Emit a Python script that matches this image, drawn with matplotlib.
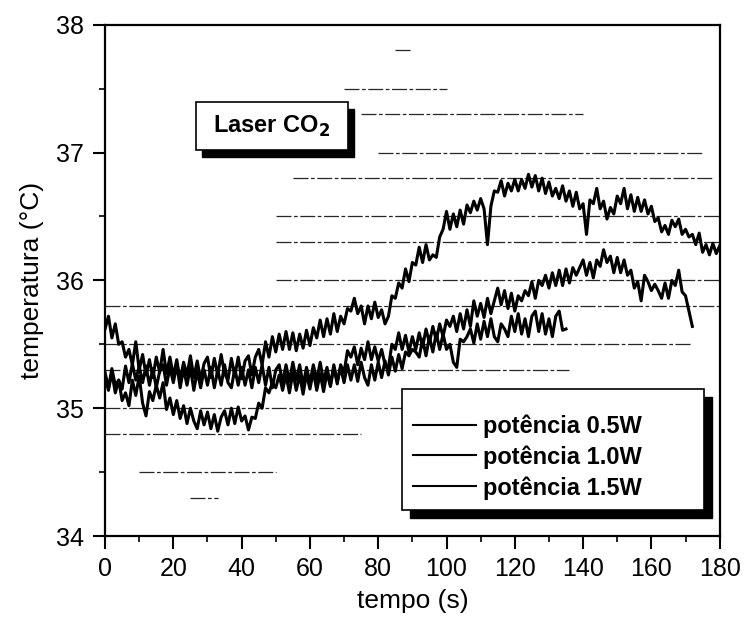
import matplotlib
matplotlib.use("Agg")
import matplotlib.pyplot as plt
from matplotlib.patches import Rectangle
from matplotlib.ticker import MultipleLocator
import numpy as np

plt.rcParams['font.family'] = ['Liberation Sans', 'DejaVu Sans']

# potência 0.5W (longest run, 0-180 s, one reading per second)
temp_a = [35.62, 35.72, 35.55, 35.66, 35.50, 35.52, 35.40, 35.46, 35.34, 35.52, 35.30,
          35.42, 35.26, 35.38, 35.24, 35.40, 35.28, 35.46, 35.27, 35.40, 35.25,
          35.38, 35.22, 35.36, 35.26, 35.41, 35.24, 35.37, 35.22, 35.35, 35.40,
          35.24, 35.39, 35.26, 35.42, 35.27, 35.22, 35.39, 35.25, 35.40, 35.23,
          35.37, 35.41, 35.26, 35.40, 35.46, 35.34, 35.52, 35.40, 35.56, 35.44,
          35.58, 35.46, 35.60, 35.46, 35.59, 35.45, 35.58, 35.47, 35.61, 35.49,
          35.63, 35.55, 35.69, 35.56, 35.70, 35.58, 35.74, 35.60, 35.72, 35.66,
          35.78, 35.76, 35.86, 35.74, 35.80, 35.66, 35.80, 35.70, 35.83, 35.71,
          35.77, 35.66, 35.72, 35.88, 35.86, 35.98, 35.94, 36.09, 35.99, 36.14,
          36.12, 36.26, 36.14, 36.28, 36.16, 36.20, 36.18, 36.34, 36.40, 36.54,
          36.40, 36.52, 36.42, 36.55, 36.44, 36.59, 36.53, 36.62, 36.55, 36.64,
          36.56, 36.28, 36.58, 36.70, 36.69, 36.78, 36.66, 36.76, 36.70, 36.79,
          36.70, 36.79, 36.72, 36.83, 36.73, 36.82, 36.70, 36.80, 36.68, 36.77,
          36.66, 36.72, 36.64, 36.74, 36.62, 36.70, 36.58, 36.69, 36.56, 36.60,
          36.36, 36.63, 36.60, 36.72, 36.56, 36.62, 36.48, 36.57, 36.52, 36.66,
          36.60, 36.72, 36.56, 36.67, 36.54, 36.65, 36.54, 36.63, 36.52, 36.58,
          36.46, 36.49, 36.38, 36.43, 36.36, 36.47, 36.42, 36.48, 36.36, 36.40,
          36.34, 36.36, 36.28, 36.37, 36.22, 36.28, 36.20, 36.29, 36.21, 36.27]

# potência 1.0W (0-172 s)
temp_b = [35.24, 35.14, 35.28, 35.12, 35.22, 35.06, 35.12, 35.02, 35.22, 35.10, 35.25,
          35.04, 34.94, 35.13, 35.06, 35.18, 35.08, 35.20, 34.99, 35.08, 34.95,
          35.06, 34.92, 35.02, 34.88, 35.00, 34.90, 34.84, 34.98, 34.87, 34.97,
          34.84, 34.95, 34.82, 34.93, 34.98, 34.87, 35.00, 34.88, 35.01, 34.90,
          34.94, 34.83, 34.93, 34.92, 35.04, 35.00, 35.16, 35.12, 35.20, 35.16,
          35.26, 35.14, 35.26, 35.12, 35.28, 35.14, 35.26, 35.11, 35.27, 35.15,
          35.29, 35.14, 35.27, 35.13, 35.28, 35.17, 35.32, 35.19, 35.34, 35.28,
          35.45, 35.40, 35.48, 35.34, 35.47, 35.38, 35.52, 35.38, 35.48, 35.37,
          35.46, 35.34, 35.32, 35.50, 35.46, 35.59, 35.46, 35.57, 35.44, 35.56,
          35.46, 35.59, 35.48, 35.62, 35.51, 35.64, 35.53, 35.66, 35.56, 35.69,
          35.64, 35.72, 35.60, 35.74, 35.62, 35.77, 35.64, 35.84, 35.72, 35.82,
          35.71, 35.86, 35.74, 35.84, 35.94, 35.81, 35.92, 35.78, 35.90, 35.76,
          35.88, 35.84, 35.92, 35.88, 35.99, 35.86, 36.00, 35.96, 36.04, 35.94,
          36.06, 35.96, 36.08, 35.96, 36.09, 35.98, 36.10, 36.04, 36.10, 36.16,
          36.04, 36.14, 36.02, 36.16, 36.11, 36.24, 36.14, 36.19, 36.06, 36.18,
          36.06, 36.16, 36.04, 36.08, 35.94, 35.99, 35.84, 36.04, 35.99, 35.92,
          35.97, 35.92, 35.86, 35.98, 35.86, 36.00, 35.96, 36.08, 35.91, 35.88,
          35.76, 35.64]

# potência 1.5W (0-135 s)
temp_c = [35.28, 35.16, 35.31, 35.18, 35.22, 35.15, 35.33, 35.20, 35.35, 35.22, 35.33,
          35.20, 35.33, 35.18, 35.31, 35.16, 35.29, 35.34, 35.18, 35.32, 35.20,
          35.34, 35.16, 35.31, 35.18, 35.32, 35.14, 35.29, 35.16, 35.30, 35.18,
          35.32, 35.16, 35.30, 35.18, 35.34, 35.20, 35.16, 35.31, 35.18, 35.32,
          35.18, 35.30, 35.16, 35.32, 35.20, 35.34, 35.18, 35.32, 35.16, 35.30,
          35.34, 35.20, 35.34, 35.21, 35.36, 35.22, 35.34, 35.18, 35.32, 35.20,
          35.34, 35.22, 35.36, 35.21, 35.32, 35.18, 35.34, 35.21, 35.32, 35.20,
          35.34, 35.22, 35.34, 35.21, 35.36, 35.24, 35.18, 35.34, 35.22, 35.36,
          35.24, 35.37, 35.26, 35.40, 35.29, 35.42, 35.31, 35.44, 35.41, 35.46,
          35.44, 35.40, 35.54, 35.41, 35.56, 35.44, 35.59, 35.46, 35.58, 35.46,
          35.50, 35.36, 35.32, 35.54, 35.52, 35.56, 35.62, 35.51, 35.66, 35.54,
          35.68, 35.56, 35.70, 35.56, 35.52, 35.66, 35.62, 35.56, 35.72, 35.60,
          35.74, 35.58, 35.70, 35.56, 35.72, 35.76, 35.60, 35.74, 35.58, 35.70,
          35.56, 35.72, 35.76, 35.61, 35.62]

labels = ['potência 0.5W', 'potência 1.0W', 'potência 1.5W']

# scan streaks visible in the original figure: (level, x from, x to)
streaks = [(37.8, 85, 90), (37.5, 70, 100), (37.3, 75, 140), (37.0, 80, 175),
           (36.8, 55, 178), (36.5, 50, 180), (36.3, 50, 180), (36.0, 50, 180),
           (35.8, 0, 180), (35.5, 0, 172), (35.3, 0, 136), (35.0, 0, 87),
           (34.8, 0, 75), (34.5, 10, 50), (34.3, 25, 33)]

fig = plt.figure(figsize=(7.45, 6.19), dpi=100)
ax = fig.add_axes([0.141, 0.134, 0.825, 0.826])

for lev, x0, x1 in streaks:
    ax.hlines(lev, x0, x1, colors='0.15', linewidth=0.9, linestyles=(0, (12, 2, 3, 2)), zorder=1)

lines = []
for temps, lab in zip([temp_a, temp_b, temp_c], labels):
    t = np.arange(len(temps))
    ln, = ax.plot(t, temps, color='black', linewidth=2.2, label=lab, zorder=3)
    lines.append(ln)

ax.set_xlim(0, 180)
ax.set_ylim(34, 38)
ax.xaxis.set_major_locator(MultipleLocator(20))
ax.xaxis.set_minor_locator(MultipleLocator(10))
ax.yaxis.set_major_locator(MultipleLocator(1))
ax.yaxis.set_minor_locator(MultipleLocator(0.5))
ax.tick_params(which='major', direction='out', length=9, width=1.5, labelsize=18, pad=6,
               top=False, right=False)
ax.tick_params(which='minor', direction='out', length=4, width=1.2, top=False, right=False)
for sp in ax.spines.values():
    sp.set_linewidth(1.6)

ax.set_xlabel('tempo (s)', fontsize=19, labelpad=6)
ax.set_ylabel('temperatura (°C)', fontsize=19, labelpad=9)

# "Laser CO2" box with solid shadow
ax.add_patch(Rectangle((0.158, 0.741), 0.247, 0.094, transform=ax.transAxes,
                       facecolor='black', edgecolor='black', zorder=5))
ax.add_patch(Rectangle((0.148, 0.755), 0.247, 0.094, transform=ax.transAxes,
                       facecolor='white', edgecolor='black', linewidth=1.2, zorder=6))
ax.text(0.2715, 0.802, 'Laser CO$_\\mathbf{2}$', transform=ax.transAxes, fontsize=17,
        fontweight='bold', ha='center', va='center', zorder=7)

# legend frame with solid shadow
ax.add_patch(Rectangle((0.496, 0.035), 0.491, 0.237, transform=ax.transAxes,
                       facecolor='black', edgecolor='black', zorder=5))
ax.add_patch(Rectangle((0.483, 0.051), 0.491, 0.237, transform=ax.transAxes,
                       facecolor='white', edgecolor='black', linewidth=1.2, zorder=6))
leg = ax.legend(handles=lines, loc='upper left', bbox_to_anchor=(0.501, 0.238), frameon=False,
                prop={'size': 17, 'weight': 'bold'}, handlelength=2.67, handletextpad=0.3,
                labelspacing=0.31, borderpad=0, borderaxespad=0)
leg.set_zorder(8)
for h in leg.legend_handles:
    h.set_linewidth(1.5)

fig.savefig('out.png', dpi=100)
